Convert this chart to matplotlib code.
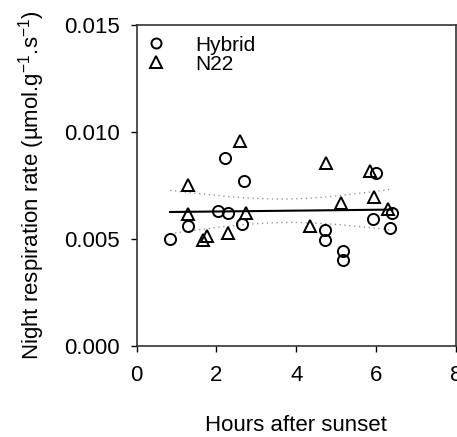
import numpy as np
import matplotlib
matplotlib.use("Agg")
import matplotlib.pyplot as plt
from matplotlib.ticker import FormatStrFormatter

plt.rcParams['font.family'] = ['Liberation Sans', 'DejaVu Sans']
plt.rcParams['mathtext.fontset'] = 'custom'
plt.rcParams['mathtext.rm'] = 'Liberation Sans'
plt.rcParams['mathtext.it'] = 'Liberation Sans'
plt.rcParams['mathtext.default'] = 'regular'

# Data
hybrid_hours = [0.84, 1.30, 2.21, 2.03, 2.28, 2.70, 2.65, 4.71, 4.71, 5.17, 5.17, 5.98, 5.92, 6.40, 6.35]
hybrid_rate = [0.00500, 0.00557, 0.00877, 0.00627, 0.00621, 0.00771, 0.00567, 0.00539, 0.00492,
               0.00442, 0.00399, 0.00805, 0.00591, 0.00619, 0.00548]
n22_hours = [1.30, 1.30, 1.77, 1.67, 2.28, 2.60, 2.74, 4.73, 4.35, 5.11, 5.85, 5.94, 6.28]
n22_rate = [0.00751, 0.00613, 0.00511, 0.00492, 0.00528, 0.00955, 0.00619, 0.00852, 0.00557,
            0.00666, 0.00815, 0.00694, 0.00640]

xticks = [0, 2, 4, 6, 8]
yticks = [0.000, 0.005, 0.010, 0.015]

fig = plt.figure(figsize=(4.57, 4.37), dpi=100)
ax = fig.add_axes([0.2987, 0.2089, 0.6998, 0.7350])

# pooled regression with 95% confidence band
x = np.array(hybrid_hours + n22_hours)
y = np.array(hybrid_rate + n22_rate)
n = len(x)
b, a = np.polyfit(x, y, 1)
xs = np.linspace(x.min(), x.max(), 100)
yfit = a + b * xs
resid = y - (a + b * x)
s = np.sqrt(np.sum(resid ** 2) / (n - 2))
sxx = np.sum((x - x.mean()) ** 2)
tval = 2.056
half = tval * s * np.sqrt(1.0 / n + (xs - x.mean()) ** 2 / sxx)

ax.plot(xs, yfit, color='black', lw=1.5, zorder=2)
ax.plot(xs, yfit + half, color='#999999', lw=1.0, ls=(0, (1, 2.5)), zorder=2)
ax.plot(xs, yfit - half, color='#999999', lw=1.0, ls=(0, (1, 2.5)), zorder=2)

ax.plot(hybrid_hours, hybrid_rate, ls='none', marker='o', ms=8, mfc='none', mec='black',
        mew=1.4, label='Hybrid', zorder=3)
ax.plot(n22_hours, n22_rate, ls='none', marker='^', ms=9, mfc='none', mec='black',
        mew=1.4, label='N22', zorder=3)

ax.set_xlim(0, 8)
ax.set_ylim(0, 0.015)
ax.set_xticks(xticks)
ax.set_yticks(yticks)
ax.yaxis.set_major_formatter(FormatStrFormatter('%.3f'))
ax.tick_params(direction='out', length=4, width=1, labelsize=16, colors='black')
ax.tick_params(axis='y', pad=8)
ax.tick_params(axis='x', pad=10)
for sp in ax.spines.values():
    sp.set_linewidth(1.2)
    sp.set_color('#333333')

ax.set_xlabel('Hours after sunset', fontsize=16, labelpad=21)
ax.set_ylabel('Night respiration rate (µmol.g$^{-1}$.s$^{-1}$)', fontsize=16, labelpad=12)

leg = ax.legend(loc='upper left', bbox_to_anchor=(-0.005, 0.985), frameon=False, fontsize=15,
                markerscale=0.9, handletextpad=1.2, borderaxespad=0.0, borderpad=0.3,
                labelspacing=0.0, handlelength=1.4)

fig.savefig('out.png', dpi=100)
